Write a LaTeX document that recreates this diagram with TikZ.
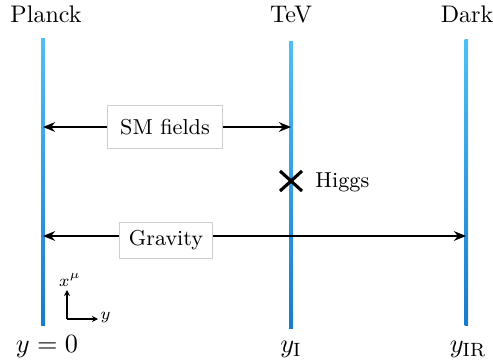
\documentclass[tikz,border=0pt]{standalone}
\usetikzlibrary{arrows.meta,calc}
\definecolor{lineTop}{HTML}{50BEF5}
\definecolor{lineBot}{HTML}{1A7BC9}
\definecolor{boxGray}{HTML}{CFCFCF}
\begin{document}
\begin{tikzpicture}[x=0.41667pt,y=-0.41667pt,
  brane/.style={top color=lineTop,bottom color=lineBot,draw=none},
  toplabel/.style={font=\fontsize{10}{12}\selectfont,anchor=base,inner sep=0pt},
  botlabel/.style={font=\fontsize{11}{13}\selectfont,anchor=base,inner sep=0pt},
  fieldbox/.style={draw=boxGray,line width=0.4pt,fill=white,font=\fontsize{9}{11}\selectfont,inner sep=0pt},
  bulkarrow/.style={{Stealth[length=5pt,width=4pt]}-{Stealth[length=5pt,width=4pt]},line width=0.85pt},
  axarrow/.style={-{Stealth[length=2.5pt,width=2.5pt]},line width=0.5pt}]
\useasboundingbox (0,0) rectangle (493,360);
% branes
\shade[brane] (41,39) rectangle (45,325);
\shade[brane] (289,42) rectangle (293,328);
\shade[brane] (464.5,40) rectangle (468,325);
\coordinate (PL) at (43,127);
\coordinate (TV) at (291,127);
\coordinate (PL2) at (43,236);
\coordinate (DK) at (466,236);
% top labels
\node[toplabel] (planck) at (46,23) {Planck};
\node[toplabel] (tev) at (291,23) {TeV};
\node[toplabel] (dark) at (467,23) {Dark};
% bottom labels
\node[botlabel] (y0) at (47,352) {$y=0$};
\node[botlabel] (yI) at (291,352) {$y_{\mathrm{I}}$};
\node[botlabel] (yIR) at (468,352) {$y_{\mathrm{IR}}$};
% arrows
\draw[bulkarrow] (PL) -- (TV);
\draw[bulkarrow] (PL2) -- (DK);
\node[fieldbox,minimum width=48.3pt,minimum height=18.3pt] (sm) at (165,127) {SM fields};
\node[fieldbox,minimum width=39pt,minimum height=15pt] (grav) at (166,240) {Gravity};
% Higgs
\coordinate (H) at (291,181);
\draw[line width=1.3pt] ($(H)+(-11,-10)$) -- ($(H)+(11,10)$);
\draw[line width=1.3pt] ($(H)+(-11,10)$) -- ($(H)+(11,-10)$);
\node[font=\fontsize{9}{11}\selectfont,anchor=west,inner sep=0pt] (higgs) at (315,182) {Higgs};
% small axes
\coordinate (O) at (67,319);
\coordinate (Xu) at (67,290);
\coordinate (Yr) at (98,319);
\draw[axarrow] (O) -- (Xu);
\draw[axarrow] (O) -- (Yr);
\node[font=\fontsize{7}{8}\selectfont,inner sep=0pt] (xmu) at (70,280) {$x^\mu$};
\node[font=\fontsize{7}{8}\selectfont,inner sep=0pt,anchor=west] (ylab) at (100,318) {$y$};
\end{tikzpicture}
\end{document}
